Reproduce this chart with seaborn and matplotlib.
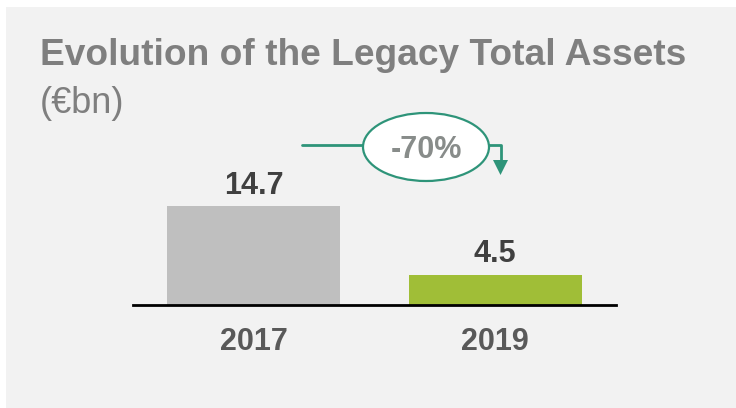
import matplotlib
matplotlib.use("Agg")
import matplotlib.pyplot as plt
import seaborn as sns
import pandas as pd
from matplotlib.patches import Ellipse, Rectangle, Polygon
from matplotlib.lines import Line2D

# ---- data ----
categories = ["2017", "2019"]
values = [14.7, 4.5]
value_labels = ["14.7", "4.5"]
bar_colors = ["#bfbfbf", "#a0be37"]
title = "Evolution of the Legacy Total Assets"
subtitle = "(€bn)"
change_label = "-70%"

sns.set_theme(style="white")
plt.rcParams["font.family"] = ["Liberation Sans", "DejaVu Sans"]

W, H = 736, 408
fig = plt.figure(figsize=(W / 100, H / 100), dpi=100, facecolor="white")


def px(x, y):
    return (x / W, (H - y) / H)


# panel background
fig.patches.append(Rectangle(px(6, H), 1, (H - 7) / H, transform=fig.transFigure,
                             facecolor="#f2f2f2", edgecolor="none", zorder=-10))

# axes: baseline at y=305px, 6.73 px per unit
ymax = 20
ax_left, ax_right = 133, 616
base = 305
top = base - ymax * 6.73
ax = fig.add_axes([ax_left / W, (H - base) / H, (ax_right - ax_left) / W, (base - top) / H])
ax.set_facecolor("none")
ax.set_zorder(2)

df = pd.DataFrame({"year": categories, "value": values})
sns.barplot(data=df, x="year", y="value", hue="year", palette=bar_colors,
            width=0.715, legend=False, ax=ax, saturation=1, linewidth=0)
ax.set_xlim(-0.5, 1.5)
ax.set_ylim(0, ymax)

for cont, lab in zip(ax.containers, value_labels):
    ax.bar_label(cont, labels=[lab], padding=4, fontsize=22, fontweight="bold",
                 color="#404040")

for s in ["top", "left", "right"]:
    ax.spines[s].set_visible(False)
ax.spines["bottom"].set_color("black")
ax.spines["bottom"].set_linewidth(2)
ax.set_yticks([])
ax.set_xlabel("")
ax.set_ylabel("")
ax.set_xticks(range(len(categories)))
ax.set_xticklabels(categories, fontsize=22, fontweight="bold", color="#595959")
ax.tick_params(axis="x", length=0, pad=16)

# title
fig.text(40 / W, (H - 65) / H, title, fontsize=26.7, fontweight="bold",
         color="#7f7f7f", va="baseline", ha="left")
fig.text(40 / W, (H - 113) / H, subtitle, fontsize=26, color="#7f7f7f",
         va="baseline", ha="left")

# change annotation
teal = "#2e9479"
fig.add_artist(Line2D([302 / W, 363 / W], [(H - 145) / H] * 2, color=teal, lw=2,
                      transform=fig.transFigure, zorder=4))
fig.add_artist(Line2D([489 / W, 500.5 / W, 500.5 / W],
                      [(H - 145) / H, (H - 145) / H, (H - 161) / H],
                      color=teal, lw=2, transform=fig.transFigure, zorder=4))
fig.add_artist(Polygon([px(493, 160), px(508, 160), px(500.5, 175)], closed=True,
                       facecolor=teal, edgecolor="none", transform=fig.transFigure,
                       zorder=4))
fig.add_artist(Ellipse(px(426, 147), 126 / W, 68 / H, facecolor="white",
                       edgecolor=teal, lw=1.6, transform=fig.transFigure, zorder=5))
fig.text(426 / W, (H - 158.5) / H, change_label, fontsize=22, fontweight="bold",
         color="#888c8a", ha="center", va="baseline", zorder=6)

fig.savefig("out.png", dpi=100, facecolor=fig.get_facecolor())
